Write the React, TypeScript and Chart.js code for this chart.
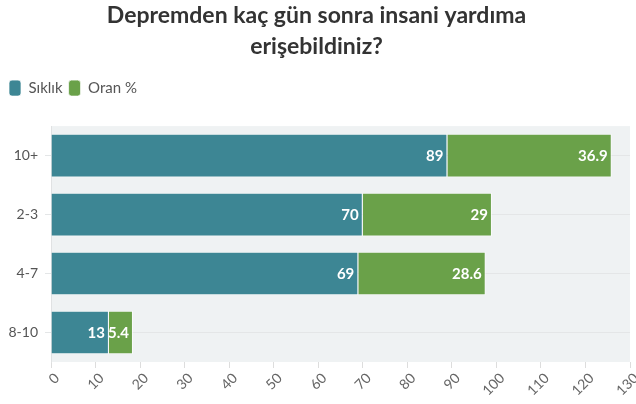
import React, { useEffect, useRef } from 'react';
import { Chart, registerables } from 'chart.js';

Chart.register(...registerables);

const categories = ['10+', '2-3', '4-7', '8-10'];
const siklik = [89, 70, 69, 13];
const oran = [36.9, 29, 28.6, 5.4];
const seriesNames = ['Sıklık', 'Oran %'];
const titleLines = ['Depremden kaç gün sonra insani yardıma', 'erişebildiniz?'];
const xMin = 0;
const xMax = 130;
const xStep = 10;

const FONT = 'Lato, "Noto Sans", sans-serif';

const bgPlugin = {
  id: 'plotBg',
  beforeDraw(chart: any) {
    const { ctx, chartArea } = chart;
    if (!chartArea) return;
    ctx.save();
    ctx.fillStyle = '#eff2f3';
    ctx.fillRect(chartArea.left, chartArea.top, chartArea.right - chartArea.left, chartArea.bottom - chartArea.top);
    ctx.restore();
  },
};

const legendGap = {
  id: 'legendGap',
  beforeInit(chart: any) {
    const legend = chart.legend;
    if (!legend) return;
    const origFit = legend.fit;
    legend.fit = function () {
      origFit.bind(legend)();
      this.height += 20;
    };
  },
};

const labelPlugin = {
  id: 'barLabels',
  afterDatasetsDraw(chart: any) {
    const { ctx } = chart;
    ctx.save();
    ctx.fillStyle = '#ffffff';
    ctx.font = `bold 15px ${FONT}`;
    ctx.textAlign = 'right';
    ctx.textBaseline = 'middle';
    chart.data.datasets.forEach((ds: any, di: number) => {
      const meta = chart.getDatasetMeta(di);
      meta.data.forEach((el: any, i: number) => {
        ctx.fillText(String(ds.data[i]), el.x - 4, el.y + 1);
      });
    });
    ctx.restore();
  },
};

export default function App() {
  const ref = useRef<HTMLCanvasElement | null>(null);
  useEffect(() => {
    document.body.style.margin = '0';
    if (!ref.current) return;
    const chart = new Chart(ref.current, {
      type: 'bar',
      data: {
        labels: categories,
        datasets: [
          {
            label: seriesNames[0],
            data: siklik,
            backgroundColor: '#3d8694',
            borderColor: 'rgba(255,255,255,0.7)',
            borderWidth: 1,
            barPercentage: 0.74,
            categoryPercentage: 1,
          },
          {
            label: seriesNames[1],
            data: oran,
            backgroundColor: '#6aa149',
            borderColor: 'rgba(255,255,255,0.7)',
            borderWidth: 1,
            barPercentage: 0.74,
            categoryPercentage: 1,
          },
        ],
      },
      options: {
        indexAxis: 'y',
        animation: false,
        responsive: true,
        maintainAspectRatio: false,
        layout: { padding: { left: 3, right: 6, top: 0, bottom: 0 } },
        plugins: {
          title: {
            display: true,
            text: titleLines,
            color: '#333333',
            font: { family: FONT, size: 23, weight: 'bold', lineHeight: 1.35 },
            padding: { top: 0, bottom: 12 },
          },
          legend: {
            display: true,
            position: 'top',
            align: 'start',
            labels: {
              color: '#555555',
              font: { family: FONT, size: 15 },
              boxWidth: 12,
              boxHeight: 16,
              useBorderRadius: true,
              borderRadius: 3,
              padding: 6,
            },
          },
          tooltip: { enabled: false },
        },
        scales: {
          x: {
            type: 'linear',
            stacked: true,
            min: xMin,
            max: xMax,
            afterFit(scale: any) {
              scale.paddingRight = 0;
              scale.paddingLeft = 0;
              scale.height = 42;
            },
            ticks: {
              stepSize: xStep,
              minRotation: 45,
              maxRotation: 45,
              labelOffset: 6,
              color: '#666666',
              font: { family: FONT, size: 14 },
              padding: 2,
            },
            grid: { drawOnChartArea: false, drawTicks: true, tickLength: 6, color: '#dddddd' },
            border: { display: false },
          },
          y: {
            stacked: true,
            afterFit(scale: any) {
              scale.width = 48;
            },
            ticks: { color: '#555555', font: { family: FONT, size: 14 }, padding: 7 },
            grid: { offset: false, color: '#e4e6e7', tickLength: 6, drawTicks: true },
            border: { display: true, color: '#e0e2e3' },
          },
        },
      },
      plugins: [legendGap, bgPlugin, labelPlugin],
    });
    return () => chart.destroy();
  }, []);
  return (
    <div style={{ width: 636, height: 404, position: 'relative' }}>
      <canvas ref={ref} />
    </div>
  );
}
